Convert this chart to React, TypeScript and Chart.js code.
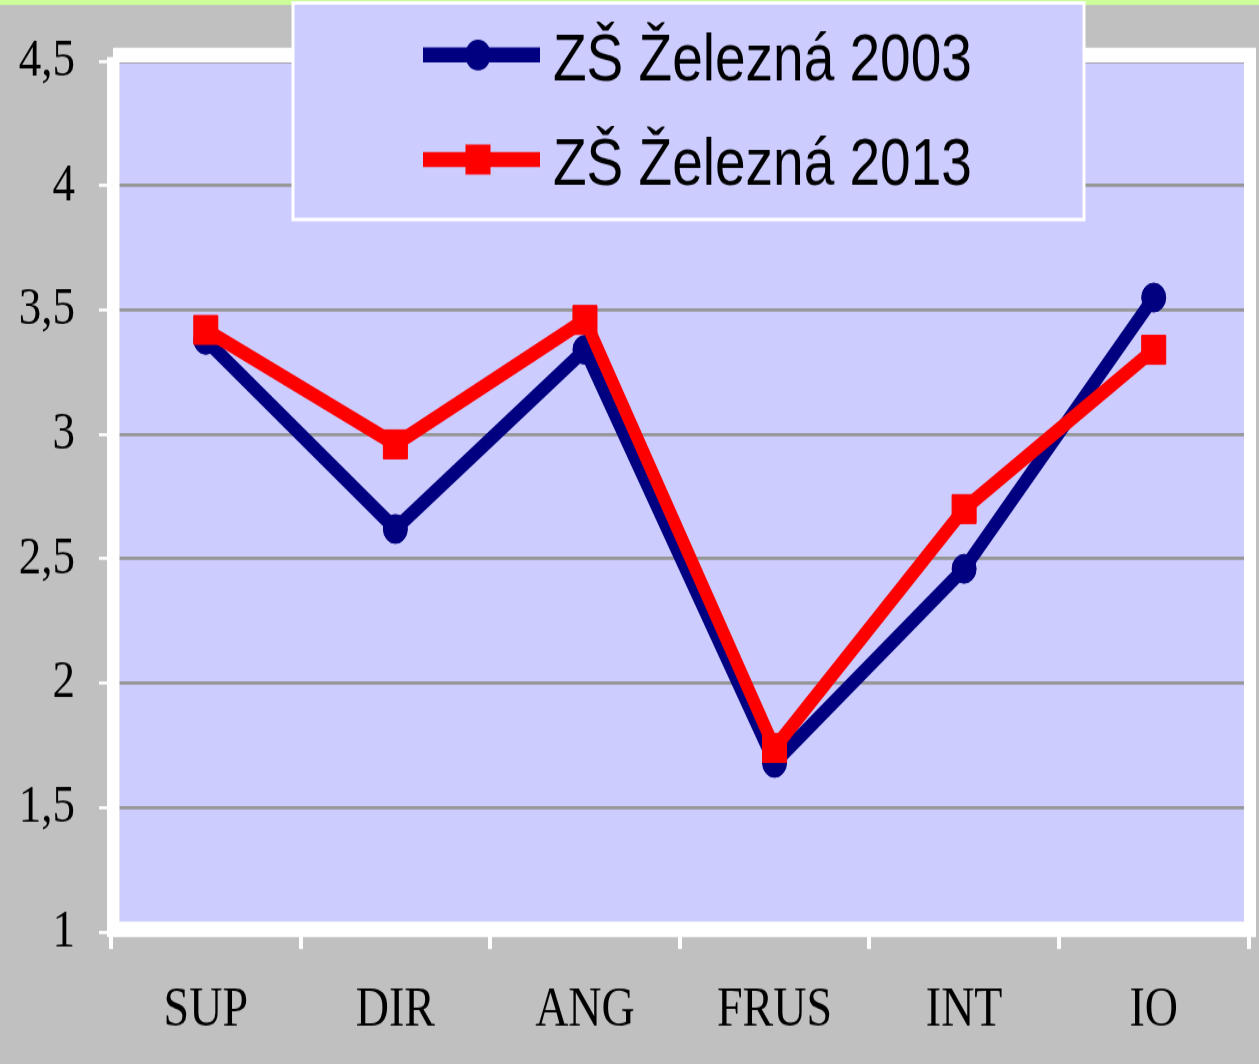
import { useEffect, useRef } from 'react';
import { Chart, registerables } from 'chart.js';

Chart.register(...registerables);

// ---- data ----
const categories = ['SUP', 'DIR', 'ANG', 'FRUS', 'INT', 'IO'];
const values2003 = [3.38, 2.62, 3.34, 1.68, 2.46, 3.55];
const values2013 = [3.42, 2.96, 3.46, 1.74, 2.7, 3.34];
const seriesNames = ['ZŠ Železná 2003', 'ZŠ Železná 2013'];
const seriesColors = ['#000080', '#ff0000'];
const yMin = 1;
const yMax = 4.5;
const yStep = 0.5;

// ---- layout (the picture is vertically stretched) ----
const W = 1259;
const H = 1064;
const CH = 887;
const SY = H / CH;
const v = (realY: number) => realY / SY;

const SERIF = '"Liberation Serif", "Times New Roman", serif';
const SANS = '"Liberation Sans", Arial, sans-serif';

const framePlugin = {
  id: 'frame',
  beforeDraw(chart: any) {
    const { ctx, width, height } = chart;
    ctx.save();
    ctx.fillStyle = '#c0c0c0';
    ctx.fillRect(0, 0, width, height);
    ctx.fillStyle = '#ccff99';
    ctx.fillRect(0, 0, width, v(5));
    ctx.fillStyle = '#ccccff';
    ctx.fillRect(119.5, v(62.3), 1244 - 119.5, v(921.7) - v(62.3));
    ctx.restore();
  },
  beforeDatasetsDraw(chart: any) {
    const { ctx } = chart;
    ctx.save();
    ctx.fillStyle = '#ffffff';
    ctx.beginPath();
    ctx.rect(113, v(47.7), 1256 - 113, v(937) - v(47.7));
    ctx.rect(119.5, v(62.3), 1244 - 119.5, v(921.7) - v(62.3));
    ctx.fill('evenodd');
    ctx.fillRect(107, v(57), 6, v(937) - v(57));
    ctx.restore();
  },
  afterDraw(chart: any) {
    const { ctx } = chart;
    const ds = chart.data.datasets;
    ctx.save();
    const bx = 293, by = 2.5, bw = 1084 - 293, bh = 183 - 2.5;
    ctx.fillStyle = '#ccccff';
    ctx.fillRect(bx, by, bw, bh);
    ctx.strokeStyle = '#ffffff';
    ctx.lineWidth = 3;
    ctx.strokeRect(bx, by, bw, bh);
    const rows = [v(55), v(159.5)];
    const baselines = [v(80.7), v(185.2)];
    ds.forEach((d: any, i: number) => {
      const y = rows[i];
      ctx.strokeStyle = d.borderColor;
      ctx.lineWidth = 12.5;
      ctx.beginPath();
      ctx.moveTo(423, y);
      ctx.lineTo(540, y);
      ctx.stroke();
      ctx.fillStyle = d.borderColor;
      if (d.pointStyle === 'rect') {
        ctx.fillRect(478 - 12.5, y - 12.5, 25, 25);
      } else {
        ctx.beginPath();
        ctx.arc(478, y, 12.8, 0, Math.PI * 2);
        ctx.fill();
      }
      ctx.fillStyle = '#000000';
      ctx.font = `55px ${SANS}`;
      ctx.textAlign = 'left';
      ctx.textBaseline = 'alphabetic';
      ctx.fillText(d.label, 553, baselines[i]);
    });
    ctx.restore();
  },
};

export default function App() {
  const ref = useRef<HTMLCanvasElement>(null);

  useEffect(() => {
    document.body.style.margin = '0';
    document.body.style.background = '#c0c0c0';
    const canvas = ref.current!;
    const chart = new Chart(canvas, {
      type: 'line',
      data: {
        labels: categories,
        datasets: [
          {
            label: seriesNames[0],
            data: values2003,
            borderColor: seriesColors[0],
            backgroundColor: seriesColors[0],
            borderWidth: 12,
            pointStyle: 'circle',
            pointRadius: 12,
            pointBorderWidth: 1,
            pointBackgroundColor: seriesColors[0],
            pointBorderColor: seriesColors[0],
            tension: 0,
            fill: false,
            clip: false as any,
            order: 1,
          },
          {
            label: seriesNames[1],
            data: values2013,
            borderColor: seriesColors[1],
            backgroundColor: seriesColors[1],
            borderWidth: 12,
            pointStyle: 'rect',
            pointRadius: 17,
            pointBorderWidth: 1,
            pointBackgroundColor: seriesColors[1],
            pointBorderColor: seriesColors[1],
            tension: 0,
            fill: false,
            clip: false as any,
            order: 0,
          },
        ],
      },
      options: {
        responsive: false,
        animation: false,
        devicePixelRatio: 1,
        events: [],
        layout: {
          autoPadding: false,
          padding: { top: v(57), right: 1259 - 1248.5, left: 0, bottom: 0 },
        },
        plugins: {
          legend: { display: false },
          tooltip: { enabled: false },
          title: { display: false },
        },
        scales: {
          x: {
            type: 'category',
            offset: true,
            grid: {
              display: true,
              offset: true,
              drawOnChartArea: false,
              drawTicks: true,
              tickLength: 14.2,
              color: '#ffffff',
              tickColor: '#ffffff',
              tickWidth: 4,
              lineWidth: 4,
            },
            border: { display: false },
            ticks: {
              font: { family: SERIF, size: 46 },
              color: '#000000',
              padding: 24.4,
              maxRotation: 0,
              autoSkip: false,
            },
            afterFit: (s: any) => {
              s.height = CH - v(932);
            },
          },
          y: {
            min: yMin,
            max: yMax,
            grid: {
              color: '#969696',
              lineWidth: 2.8,
              tickColor: '#ffffff',
              tickLength: 12,
              tickWidth: 2.6,
            },
            border: { display: false },
            ticks: {
              stepSize: yStep,
              font: { family: SERIF, size: 45 },
              color: '#000000',
              padding: 24,
              callback: (val: any) => String(val).replace('.', ','),
            },
            afterFit: (s: any) => {
              s.width = 111;
            },
          },
        },
      },
      plugins: [framePlugin],
    });
    return () => chart.destroy();
  }, []);

  return (
    <canvas
      ref={ref}
      width={W}
      height={CH}
      style={{ display: 'block', width: `${W}px`, height: `${H}px` }}
    />
  );
}
